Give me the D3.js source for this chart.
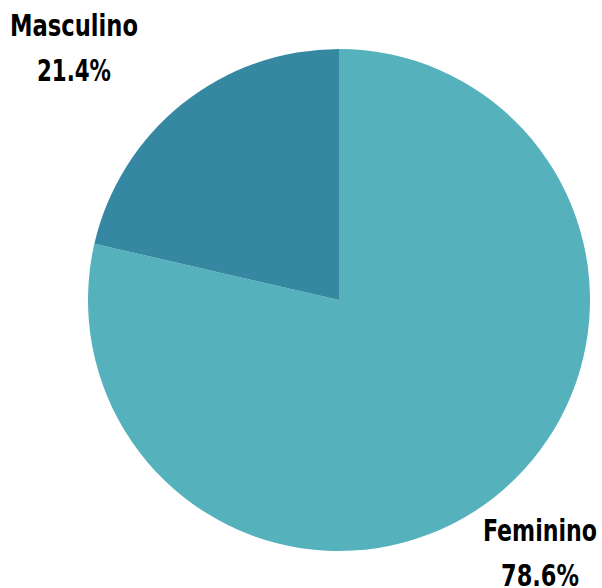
<!DOCTYPE html>
<html>
<head>
<meta charset="utf-8">
<script src="https://cdn.jsdelivr.net/npm/d3@7"></script>
<style>
  body { margin: 0; background: #fff; }
  text { font-family: "DejaVu Sans", sans-serif; font-weight: bold; font-stretch: condensed; }
</style>
</head>
<body>
<svg id="chart"></svg>
<script>
// Data
const categories = ["Feminino", "Masculino"];
const shares = [78.6, 21.4];
const colors = ["#55b1bc", "#3688a2"];

const width = 602, height = 588;
const cx = 339, cy = 300, radius = 251;

const svg = d3.select("#chart")
  .attr("width", width)
  .attr("height", height);

const pieData = d3.pie()
  .sort(null)
  .value(d => d)(shares);

const arc = d3.arc().innerRadius(0).outerRadius(radius);

const g = svg.append("g").attr("transform", `translate(${cx},${cy})`);

g.selectAll("path")
  .data(pieData)
  .enter()
  .append("path")
  .attr("d", arc)
  .attr("fill", (d, i) => colors[i]);

// labels: Feminino bottom-right, Masculino top-left
const labelPos = [{ x: 540, y: 541 }, { x: 74, y: 36 }];
const nameWidth = [114, 128];
const pctWidth = [78, 74];

categories.forEach((c, i) => {
  const lg = svg.append("g")
    .attr("transform", `translate(${labelPos[i].x},${labelPos[i].y})`);
  const name = lg.append("text")
    .attr("text-anchor", "middle")
    .style("font-size", "31px")
    .attr("fill", "#000")
    .text(c);
  const pct = lg.append("text")
    .attr("y", 45)
    .attr("text-anchor", "middle")
    .style("font-size", "31px")
    .attr("fill", "#000")
    .text(shares[i].toFixed(1) + "%");
  // squeeze to the narrow look of the original
  name.attr("textLength", nameWidth[i]).attr("lengthAdjust", "spacingAndGlyphs");
  pct.attr("textLength", pctWidth[i]).attr("lengthAdjust", "spacingAndGlyphs");
});
</script>
</body>
</html>
